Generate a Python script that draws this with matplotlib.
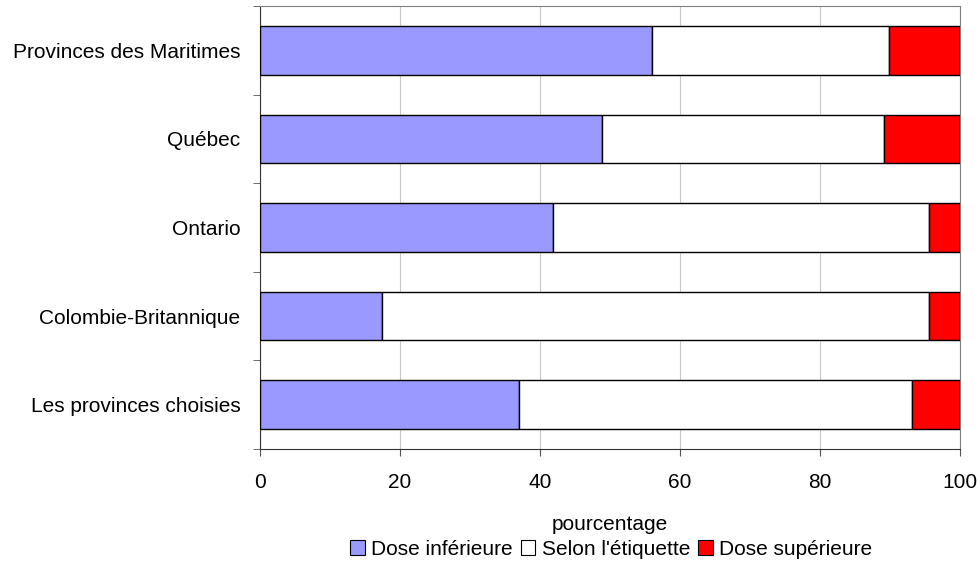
import numpy as np
import matplotlib
matplotlib.use('Agg')
import matplotlib.pyplot as plt
from matplotlib.patches import Patch

plt.rcParams['font.family'] = ['Liberation Sans', 'DejaVu Sans']

categories = ['Provinces des Maritimes', 'Québec', 'Ontario',
              'Colombie-Britannique', 'Les provinces choisies']
dose_inf = [56.0, 48.9, 41.8, 17.5, 37.0]
selon = [33.9, 40.2, 53.8, 78.1, 56.2]
dose_sup = [10.1, 10.9, 4.4, 4.4, 6.8]

series = ['Dose inférieure', "Selon l'étiquette", 'Dose supérieure']
colors = ['#9999ff', '#ffffff', '#ff0000']

fig = plt.figure(figsize=(9.78, 5.61), dpi=100)
ax = fig.add_axes([260/978, 1-449/561, 700/978, 443/561])

y = np.arange(len(categories))[::-1]
left = np.zeros(len(categories))
for vals, c in zip([dose_inf, selon, dose_sup], colors):
    ax.barh(y, vals, left=left, height=0.55, color=c, edgecolor='black',
            linewidth=1, zorder=3)
    left += np.array(vals)

ax.set_xlim(0, 100)
ax.set_ylim(-0.5, len(categories)-0.5)
ax.set_xticks([0, 20, 40, 60, 80, 100])
ax.xaxis.grid(True, color='#c8c8c8', linewidth=0.8, zorder=0)
ax.set_yticks(y)
ax.set_yticklabels(categories)
ax.tick_params(axis='y', length=0, labelsize=15, pad=14)
ax.set_yticks(np.arange(-0.5, len(categories), 1.0), minor=True)
ax.tick_params(axis='y', which='minor', length=5, color='#555555')
ax.tick_params(axis='x', length=5, labelsize=15, pad=12, color='#555555')
for s in ax.spines.values():
    s.set_color('#808080')
ax.spines['left'].set_color('#333333')
ax.spines['bottom'].set_color('#333333')

ax.set_xlabel('pourcentage', fontsize=15, labelpad=17)

handles = [Patch(facecolor=c, edgecolor='black', linewidth=0.8) for c in colors]
fig.legend(handles, series, loc='lower center', bbox_to_anchor=(0.625, -0.03),
           ncol=3, frameon=False, fontsize=15, handlelength=0.7,
           handleheight=0.7, handletextpad=0.3, columnspacing=0.4)

fig.savefig('out.png', dpi=100)
